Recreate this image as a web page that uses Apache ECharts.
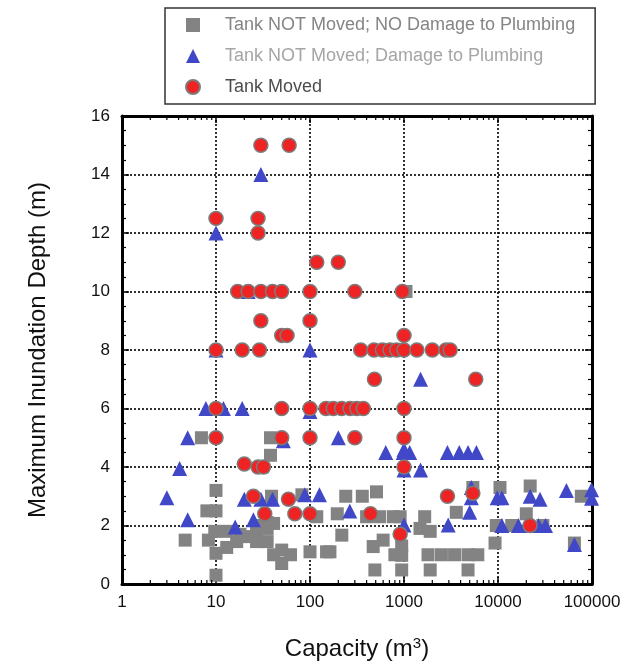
<!DOCTYPE html>
<html>
<head>
<meta charset="utf-8">
<script src="https://cdn.jsdelivr.net/npm/echarts@6/dist/echarts.min.js"></script>
<style>
  html, body { margin: 0; padding: 0; background: #fff; }
  #chart { width: 634px; height: 672px; }
</style>
</head>
<body>
<div id="chart"></div>
<script>
// [capacity (m3), maximum inundation depth (m)]
var notMovedNoDamage = [
  [1050, 10],
  [7, 5], [38, 5], [38, 4.4], [31, 4],
  [10, 3.2], [39, 3.0], [82, 3.05], [240, 3.0], [360, 3.0], [510, 3.15],
  [8, 2.5], [10, 2.5],
  [118, 2.3], [195, 2.4], [400, 2.3], [550, 2.3], [770, 2.3], [910, 2.3],
  [218, 1.67], [163, 1.1], [150, 1.1], [100, 1.1],
  [4.7, 1.5], [8.3, 1.5], [9.7, 1.8], [10, 1.05], [10, 0.3],
  [13, 1.8], [13, 1.25], [16.6, 1.45], [18, 1.7], [21, 1.62], [27, 1.75], [30, 2.0],
  [35, 1.9], [35, 2.1], [41, 2.07], [27, 1.45], [35, 1.45],
  [50, 1.16], [41, 1.0], [62, 1.0], [50, 0.7],
  [470, 1.28], [600, 1.5], [490, 0.48], [800, 1.0], [945, 1.3], [945, 0.98], [945, 0.48],
  [1660, 2.3], [1480, 1.9], [1900, 1.8], [3600, 2.45],
  [1800, 1.0], [2500, 1.0], [3450, 1.0], [4800, 1.0], [6100, 1.0], [1900, 0.48], [4800, 0.48],
  [5400, 3.3], [10500, 3.3], [22000, 3.35], [77000, 3.0],
  [9600, 2.0], [14000, 2.0], [20000, 2.4], [30000, 2.0],
  [9300, 1.4], [65000, 1.4]
];

var notMovedDamage = [
  [30, 14], [10, 12], [22, 10], [10, 8], [100, 8],
  [7.8, 6], [12, 6], [19, 6], [100, 5.9], [1500, 7],
  [5, 5], [52, 4.9], [200, 5], [1000, 4.6],
  [640, 4.5], [980, 4.5], [1150, 4.5], [2900, 4.5], [3870, 4.5], [4800, 4.5], [5900, 4.5],
  [4.1, 3.95], [1000, 3.9], [1500, 3.9],
  [3, 2.95], [20, 2.9], [30, 2.9], [40, 2.9], [88, 3.05], [126, 3.05],
  [5200, 3.3], [5200, 2.95], [9800, 2.95], [11000, 2.95], [22000, 3.0], [28000, 2.9],
  [53500, 3.2], [99000, 3.22], [99000, 2.93],
  [5, 2.2], [25, 2.2], [16, 1.95], [265, 2.5], [5000, 2.45],
  [1000, 2.02], [2950, 2.02], [11000, 2.0], [16500, 2.0], [23000, 2.0], [27000, 2.0], [32000, 2.0],
  [65000, 1.35]
];

var tankMoved = [
  [30, 15], [60, 15],
  [10, 12.5], [28, 12.5], [28, 12],
  [118, 11], [200, 11],
  [17, 10], [22, 10], [30, 10], [40, 10], [50, 10], [100, 10], [300, 10], [960, 10],
  [30, 9], [100, 9],
  [50, 8.5], [57, 8.5], [1000, 8.5],
  [10, 8], [19, 8], [29, 8], [346, 8], [480, 8], [590, 8], [710, 8], [836, 8], [1000, 8],
  [1370, 8], [2000, 8], [2800, 8], [3100, 8],
  [485, 7], [5800, 7],
  [10, 6], [50, 6], [100, 6], [148, 6], [177, 6], [217, 6], [267, 6], [314, 6], [369, 6], [1000, 6],
  [10, 5], [50, 5], [100, 5], [300, 5], [1000, 5],
  [20, 4.1], [28, 4], [32, 4], [1000, 4],
  [25, 3], [59, 2.9], [2900, 3], [5400, 3.1],
  [33, 2.4], [69, 2.4], [100, 2.4], [440, 2.4],
  [910, 1.7], [21900, 2.0]
];

var seriesNames = [
  'Tank NOT Moved; NO Damage to Plumbing',
  'Tank NOT Moved; Damage to Plumbing',
  'Tank Moved'
];

// log minor tick positions on the capacity axis (2..9 per decade)
var capacityMinorTicks = [];
[1, 10, 100, 1000, 10000].forEach(function (d) {
  for (var k = 2; k <= 9; k++) capacityMinorTicks.push([d * k, 0]);
});

var font = 'Liberation Sans, Arial, Helvetica, sans-serif';

var chart = echarts.init(document.getElementById('chart'));

function xAxisBase(pos) {
  return {
    type: 'log',
    logBase: 10,
    min: 1,
    max: 100000,
    position: pos,
    axisLine: { show: true, onZero: false, lineStyle: { color: '#000', width: 3 } },
    axisTick: { show: true, inside: true, length: 7, lineStyle: { color: '#000', width: 1.5 } },
    splitLine: { show: false },
    axisLabel: { show: false }
  };
}

function yAxisBase(pos) {
  return {
    type: 'value',
    min: 0,
    max: 16,
    interval: 2,
    position: pos,
    axisLine: { show: true, onZero: false, lineStyle: { color: '#000', width: 3 } },
    axisTick: { show: true, inside: true, length: 7, lineStyle: { color: '#000', width: 1.5 } },
    minorTick: { show: true, splitNumber: 4, length: 4, lineStyle: { color: '#000', width: 1.2 } },
    splitLine: { show: false },
    axisLabel: { show: false }
  };
}

var xBottom = xAxisBase('bottom');
xBottom.splitLine = { show: true, lineStyle: { color: '#000', width: 1.6, type: [2, 2] } };
xBottom.axisLabel = {
  show: true, margin: 10, color: '#111', fontSize: 17, fontFamily: font,
  formatter: function (v) { return String(Math.round(v)); }
};
xBottom.name = 'Capacity (m{sup|3})';
xBottom.nameLocation = 'middle';
xBottom.nameGap = 52;
xBottom.nameTextStyle = {
  color: '#111', fontSize: 24, fontFamily: font,
  rich: { sup: { color: '#111', fontSize: 15, fontFamily: font, verticalAlign: 'bottom', padding: [0, 0, 12, 0] } }
};

var yLeft = yAxisBase('left');
yLeft.splitLine = { show: true, lineStyle: { color: '#000', width: 1.6, type: [2, 2] } };
yLeft.axisLabel = { show: true, margin: 12, color: '#111', fontSize: 17, fontFamily: font };
yLeft.name = 'Maximum Inundation Depth (m)';
yLeft.nameLocation = 'middle';
yLeft.nameGap = 72;
yLeft.nameTextStyle = { color: '#111', fontSize: 24, fontFamily: font };

var option = {
  backgroundColor: '#fff',
  animation: false,
  textStyle: { fontFamily: font },
  legend: {
    orient: 'vertical',
    left: 165,
    top: 8,
    padding: [8, 20, 8, 20],
    itemWidth: 14,
    itemHeight: 14,
    itemGap: 13,
    borderColor: '#333',
    borderWidth: 1.5,
    textStyle: { fontSize: 18, fontFamily: font, padding: [0, 0, 0, 20] },
    data: [
      { name: seriesNames[0], textStyle: { color: '#858585' } },
      { name: seriesNames[1], textStyle: { color: '#a5a5a5' } },
      { name: seriesNames[2], textStyle: { color: '#4d4d4d' } }
    ]
  },
  grid: { left: 122, right: 42, top: 116, bottom: 88 },
  xAxis: [xBottom, xAxisBase('top')],
  yAxis: [yLeft, yAxisBase('right')],
  series: [
    {
      name: seriesNames[0],
      type: 'scatter',
      symbol: 'rect',
      symbolSize: 13,
      itemStyle: { color: '#838383', opacity: 1 },
      z: 3,
      data: notMovedNoDamage
    },
    {
      name: seriesNames[1],
      type: 'scatter',
      symbol: 'triangle',
      symbolSize: 15,
      itemStyle: { color: '#4148c8', opacity: 1 },
      z: 4,
      data: notMovedDamage
    },
    {
      name: seriesNames[2],
      type: 'scatter',
      symbol: 'circle',
      symbolSize: 14,
      itemStyle: { color: '#ee2424', borderColor: '#7c7c7c', borderWidth: 1.5, opacity: 1 },
      z: 5,
      data: tankMoved
    },
    {
      name: 'minorTicks',
      type: 'custom',
      silent: true,
      clip: false,
      z: 6,
      data: capacityMinorTicks,
      renderItem: function (params, api) {
        var cs = params.coordSys;
        var x = api.coord([api.value(0), 0])[0];
        var st = { stroke: '#000', lineWidth: 1.2 };
        return {
          type: 'group',
          children: [
            { type: 'line', shape: { x1: x, y1: cs.y + cs.height, x2: x, y2: cs.y + cs.height - 4 }, style: st },
            { type: 'line', shape: { x1: x, y1: cs.y, x2: x, y2: cs.y + 4 }, style: st }
          ]
        };
      }
    }
  ]
};

chart.setOption(option);
</script>
</body>
</html>
